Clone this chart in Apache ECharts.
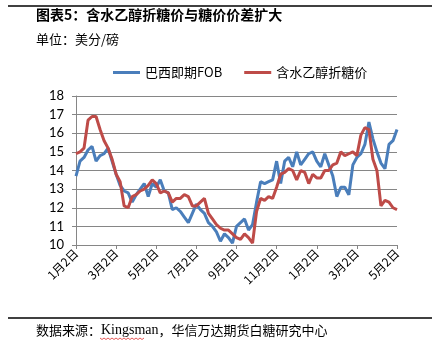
<!DOCTYPE html>
<html>
<head>
<meta charset="utf-8">
<script src="https://cdn.jsdelivr.net/npm/echarts@6/dist/echarts.min.js"></script>
<style>
html,body{margin:0;padding:0;background:#fff;}
#c{width:447px;height:349px;}
</style>
</head>
<body>
<div id="c"></div>
<script>
// Category positions: 81 points, labels every 10th point
const tickLabels = ['1月2日','3月2日','5月2日','7月2日','9月2日','11月2日','1月2日','3月2日','5月2日'];
const pointsPerTick = 10;
const seriesNames = ['巴西即期FOB','含水乙醇折糖价'];

const brazilFOB = [
13.7,14.5,14.7,15.1,15.3,14.5,14.8,14.9,15.2,14.5,
13.8,13.2,12.9,12.8,12.3,12.7,13.0,13.3,12.6,13.3,
13.1,13.5,12.9,12.8,11.9,12.0,11.8,11.5,11.2,11.7,
12.2,11.9,11.7,11.2,11.0,10.7,10.2,10.6,10.4,10.1,
11.0,11.2,11.4,10.8,11.1,12.3,13.4,13.3,13.4,13.5,
14.5,13.3,14.5,14.7,14.2,15.0,14.3,14.6,14.9,15.0,
14.5,14.2,14.9,14.3,13.7,12.6,13.1,13.1,12.7,14.3,
14.7,14.9,15.4,16.6,15.7,15.0,14.4,14.1,15.4,15.6,
16.2];

const ethanolSugar = [
14.9,15.0,15.2,16.7,16.9,16.9,16.2,15.6,15.2,14.6,
13.8,13.4,12.1,12.0,12.6,12.7,12.9,13.0,13.2,13.5,
13.3,12.8,12.9,12.8,12.3,12.5,12.5,12.7,12.6,12.1,
12.1,12.3,12.5,11.7,11.4,11.1,10.9,10.8,10.8,10.6,
10.4,10.3,10.6,10.4,10.1,11.8,12.5,12.4,12.6,12.5,
13.1,13.8,13.9,14.1,14.0,13.5,14.0,13.9,13.3,13.8,
13.6,13.6,14.0,14.0,14.3,14.4,15.0,14.8,14.9,15.0,
14.8,15.9,16.3,16.2,14.6,14.0,12.1,12.4,12.3,12.0,
11.9];

const categories = brazilFOB.map((_, i) =>
  i % pointsPerTick === 0 ? tickLabels[i / pointsPerTick] : 'p' + i);

const chart = echarts.init(document.getElementById('c'), null, {renderer: 'canvas'});

// small zigzag under "Kingsman" (spell-check decoration)
const zig = [];
for (let k = 0; k <= 22; k++) zig.push([100 + k * 2, 338 + (k % 2 ? 1.5 : 0)]);

chart.setOption({
  animation: false,
  backgroundColor: '#fff',
  textStyle: {fontFamily: 'Noto Sans CJK SC, sans-serif'},
  graphic: [
    {type: 'line', shape: {x1: 8, y1: 6, x2: 432, y2: 6}, style: {stroke: '#000', lineWidth: 1.5}},
    {type: 'text', left: 36, top: 8, style: {text: '图表5：含水乙醇折糖价与糖价价差扩大', font: 'bold 14px "Noto Sans CJK SC"', fill: '#000'}},
    {type: 'text', left: 36, top: 33, style: {text: '单位：美分/磅', font: '13px "Noto Sans CJK SC"', fill: '#000'}},
    {type: 'line', shape: {x1: 8, y1: 318, x2: 432, y2: 318}, style: {stroke: '#000', lineWidth: 1.5}},
    {type: 'text', left: 36, top: 323, style: {
      text: '{a|数据来源：}{b|Kingsman}{a|，华信万达期货白糖研究中心}',
      rich: {
        a: {font: '13px "Noto Sans CJK SC"', fill: '#000'},
        b: {font: '14px "Liberation Serif"', fill: '#000'}
      }
    }},
    {type: 'polyline', shape: {points: zig}, style: {stroke: '#e03030', lineWidth: 0.8, fill: null}}
  ],
  legend: {
    top: 61,
    left: 108,
    itemWidth: 27,
    itemHeight: 3,
    itemGap: 22,
    icon: 'rect',
    textStyle: {fontSize: 13, color: '#000', fontFamily: 'Noto Sans CJK SC'},
    data: seriesNames
  },
  grid: {left: 76, right: 50, top: 96, bottom: 104, containLabel: false},
  xAxis: {
    type: 'category',
    data: categories,
    boundaryGap: false,
    axisLine: {lineStyle: {color: '#868686', width: 1}},
    axisTick: {show: true, interval: pointsPerTick - 1, length: 4, lineStyle: {color: '#868686'}},
    axisLabel: {
      interval: pointsPerTick - 1,
      rotate: 45,
      fontSize: 12,
      color: '#000',
      margin: 6,
      fontFamily: 'Noto Sans CJK SC'
    },
    splitLine: {show: false}
  },
  yAxis: {
    type: 'value',
    min: 10, max: 18, interval: 1,
    axisLine: {show: true, lineStyle: {color: '#868686'}},
    axisTick: {show: true, length: 4, lineStyle: {color: '#868686'}},
    axisLabel: {fontSize: 13, color: '#000', margin: 12, fontFamily: 'Lato, "Open Sans", sans-serif'},
    splitLine: {lineStyle: {color: '#868686', width: 1}}
  },
  series: [
    {name: seriesNames[0], type: 'line', data: brazilFOB, symbol: 'none',
     lineStyle: {color: '#4A7EBB', width: 3}, itemStyle: {color: '#4A7EBB'}},
    {name: seriesNames[1], type: 'line', data: ethanolSugar, symbol: 'none',
     lineStyle: {color: '#BE4B48', width: 3}, itemStyle: {color: '#BE4B48'}}
  ]
});
</script>
</body>
</html>
